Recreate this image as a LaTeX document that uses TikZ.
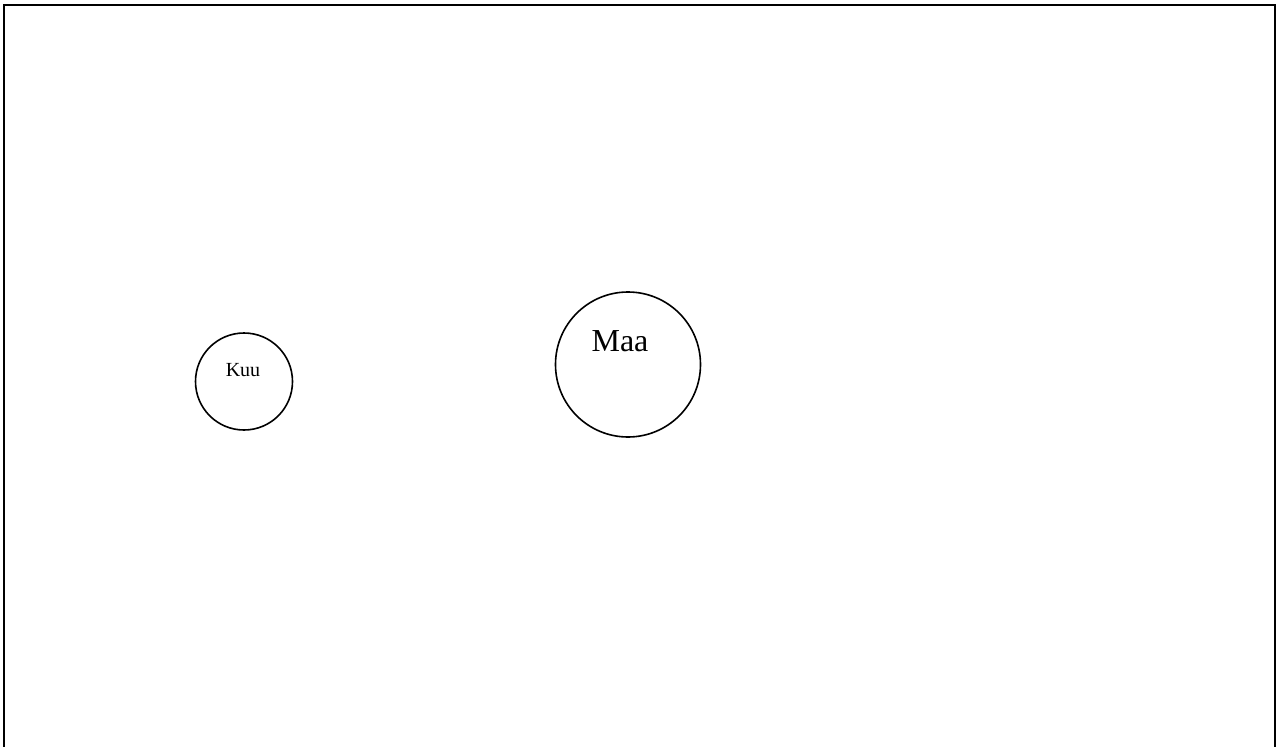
\documentclass[tikz,border=0pt]{standalone}
\usepackage{fontspec}
\setmainfont{Liberation Serif}
\begin{document}
\begin{tikzpicture}[x=1pt,y=-1pt,
  body/.style={draw=black,line width=1.6pt,circle,inner sep=0pt},
  lbl/.style={anchor=base,inner sep=0pt,text=black}]
\useasboundingbox (0,0) rectangle (1278,747);
\clip (0,0) rectangle (1278,747);
\fill[white] (0,0) rectangle (1278,747);
\draw[line width=1.8pt] (4,5) rectangle (1275,770);
\node[body,minimum size=97pt] (kuu) at (244,381.5) {};
\node[body,minimum size=145pt] (maa) at (628,364.5) {};
\node[lbl,font=\fontsize{20}{24}\selectfont] (kuulbl) at (243,376) {Kuu};
\node[lbl,font=\fontsize{32}{38}\selectfont] (maalbl) at (620,351) {Maa};
\end{tikzpicture}
\end{document}
